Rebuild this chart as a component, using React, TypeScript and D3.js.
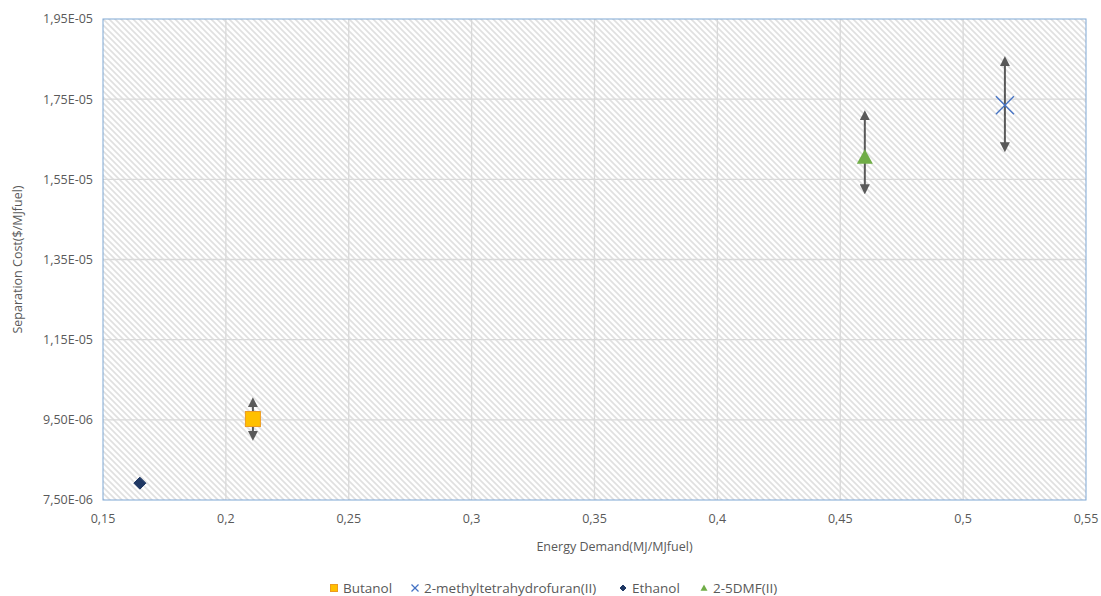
import React from "react";
import * as d3 from "d3";

const series = ["Butanol", "2-methyltetrahydrofuran(II)", "Ethanol", "2-5DMF(II)"];
const xValues = [0.211, 0.517, 0.165, 0.46];
const yValues = [9.52e-6, 1.735e-5, 7.92e-6, 1.605e-5];
const errUp = [0.42e-6, 1.1e-6, 0, 1.05e-6];
const errDown = [0.42e-6, 1.05e-6, 0, 0.8e-6];
const xTicks = [0.15, 0.2, 0.25, 0.3, 0.35, 0.4, 0.45, 0.5, 0.55];
const yTicks = [7.5e-6, 9.5e-6, 1.15e-5, 1.35e-5, 1.55e-5, 1.75e-5, 1.95e-5];
const yTickLabels = ["7,50E-06", "9,50E-06", "1,15E-05", "1,35E-05", "1,55E-05", "1,75E-05", "1,95E-05"];
const xTickLabels = ["0,15", "0,2", "0,25", "0,3", "0,35", "0,4", "0,45", "0,5", "0,55"];

const W = 1101, H = 596;
const L = 103, R = 1086, T = 19, B = 500;
const FONT = "'Open Sans', 'DejaVu Sans', sans-serif";
const TXT = "#595959";

function Marker({ kind, x, y, s }: { kind: number; x: number; y: number; s: number }) {
  if (kind === 0) {
    return <rect x={x - s / 2} y={y - s / 2} width={s} height={s} fill="#ffc000" stroke="#ed9b1f" strokeWidth={1} />;
  }
  if (kind === 1) {
    const h = s / 2;
    return (
      <g stroke="#4472c4" strokeWidth={1.3}>
        <line x1={x - h} y1={y - h} x2={x + h} y2={y + h} />
        <line x1={x - h} y1={y + h} x2={x + h} y2={y - h} />
      </g>
    );
  }
  if (kind === 2) {
    const h = s / 2;
    return <path d={`M${x},${y - h}L${x + h},${y}L${x},${y + h}L${x - h},${y}Z`} fill="#1f3864" stroke="#1f3864" />;
  }
  const h = s / 2;
  return <path d={`M${x},${y - h}L${x + h},${y + h * 0.8}L${x - h},${y + h * 0.8}Z`} fill="#70ad47" />;
}

export default function App() {
  const x = d3.scaleLinear().domain([0.15, 0.55]).range([L, R]);
  const y = d3.scaleLinear().domain([7.5e-6, 1.95e-5]).range([B, T]);
  const sizes = [15, 18, 12, 16];
  const legendX = [334, 415, 623, 704];
  const legendKinds = [0, 1, 2, 3];
  return (
    <svg width={W} height={H} style={{ position: "absolute", left: 0, top: 0, background: "#fff" }} fontFamily={FONT}>
      <defs>
        <pattern id="hatch" patternUnits="userSpaceOnUse" width={6} height={6}>
          <rect width={6} height={6} fill="#fff" />
          <path d="M-1,-1L7,7M-1,5L1,7M5,-1L7,1" stroke="#e0e0e0" strokeWidth={1.6} />
        </pattern>
        <marker id="arr" viewBox="0 0 10 10" refX={5} refY={5} markerWidth={5} markerHeight={5} orient="auto-start-reverse">
          <path d="M0,0L10,5L0,10Z" fill="#595959" />
        </marker>
      </defs>
      <rect x={L} y={T} width={R - L} height={B - T} fill="url(#hatch)" />
      {xTicks.slice(1, -1).map((t) => (
        <line key={"gx" + t} x1={x(t)} x2={x(t)} y1={T} y2={B} stroke="#d9d9d9" strokeWidth={1.3} />
      ))}
      {yTicks.slice(1, -1).map((t) => (
        <line key={"gy" + t} x1={L} x2={R} y1={y(t)} y2={y(t)} stroke="#d9d9d9" strokeWidth={1.3} />
      ))}
      <rect x={L} y={T} width={R - L} height={B - T} fill="none" stroke="#7fa7d4" strokeWidth={1} />
      {yTicks.map((t, i) => (
        <text key={"yl" + t} x={93} y={y(t)} dy="0.35em" textAnchor="end" fontSize={12.5} fill={TXT}>
          {yTickLabels[i]}
        </text>
      ))}
      {xTicks.map((t, i) => (
        <text key={"xl" + t} x={x(t)} y={523} textAnchor="middle" fontSize={12.5} fill={TXT}>
          {xTickLabels[i]}
        </text>
      ))}
      <text x={(L + R) / 2 + 20} y={551} textAnchor="middle" fontSize={12.5} fill={TXT}>
        Energy Demand(MJ/MJfuel)
      </text>
      <text transform={`translate(22,${(T + B) / 2}) rotate(-90)`} textAnchor="middle" fontSize={12.5} fill={TXT}>
        Separation Cost($/MJfuel)
      </text>
      {series.map((s, i) =>
        errUp[i] > 0 ? (
          <line
            key={"e" + s}
            x1={x(xValues[i])}
            x2={x(xValues[i])}
            y1={y(yValues[i] + errUp[i])}
            y2={y(yValues[i] - errDown[i])}
            stroke="#595959"
            strokeWidth={2}
            markerStart="url(#arr)"
            markerEnd="url(#arr)"
          />
        ) : null
      )}
      {series.map((s, i) => (
        <Marker key={"m" + s} kind={i} x={x(xValues[i])} y={y(yValues[i])} s={sizes[i]} />
      ))}
      {series.map((s, i) => (
        <g key={"lg" + s}>
          <Marker kind={legendKinds[i]} x={legendX[i]} y={588} s={i === 2 ? 6 : 7} />
          <text x={legendX[i] + 9} y={588} dy="0.35em" fontSize={13.5} fill={TXT}>
            {s}
          </text>
        </g>
      ))}
    </svg>
  );
}
